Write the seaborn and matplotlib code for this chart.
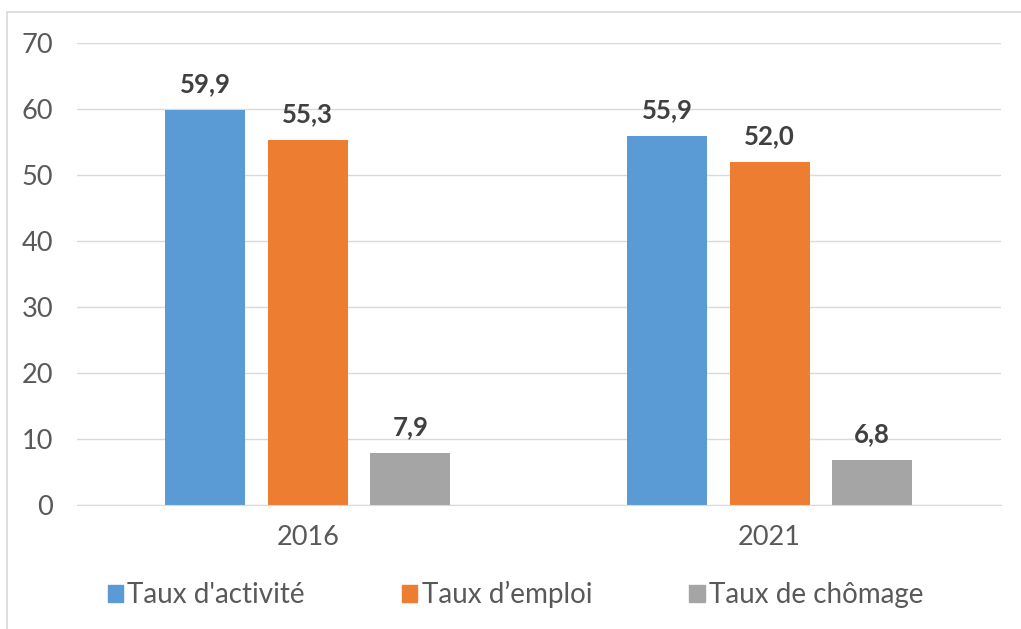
import pandas as pd
import matplotlib.pyplot as plt
import seaborn as sns
from matplotlib.patches import Patch, Rectangle

annees = ["2016", "2021"]
series = ["Taux d'activité", "Taux d\u2019emploi", "Taux de chômage"]
activite = [59.9, 55.9]
emploi = [55.3, 52.0]
chomage = [7.9, 6.8]
couleurs = ["#5B9BD5", "#ED7D31", "#A5A5A5"]

df = pd.DataFrame({
    "annee": annees * 3,
    "serie": [series[0]] * 2 + [series[1]] * 2 + [series[2]] * 2,
    "valeur": activite + emploi + chomage,
})

sns.set_style("white")
plt.rcParams["font.family"] = ["Lato", "DejaVu Sans"]

fig = plt.figure(figsize=(10.21, 6.29), dpi=100)
ax = fig.add_axes([0.0754, 0.197, 0.9046, 0.7346])

sns.barplot(data=df, x="annee", y="valeur", hue="serie", hue_order=series,
            palette=couleurs, width=0.666, gap=0.22, ax=ax, legend=False,
            saturation=1, linewidth=0)

# etiquettes des valeurs, virgule decimale
for cont in ax.containers:
    ax.bar_label(cont, labels=[f"{v:.1f}".replace(".", ",") for v in cont.datavalues],
                 padding=10, fontsize=18.5, fontweight="bold", color="#404040")

ax.set_xlim(-0.5, 1.5)
ax.set_ylim(0, 70)
ax.set_yticks(range(0, 71, 10))
ax.yaxis.grid(True, color="#D9D9D9", linewidth=1)
ax.set_axisbelow(True)
for s in ["top", "right", "left"]:
    ax.spines[s].set_visible(False)
ax.spines["bottom"].set_color("#D9D9D9")
ax.tick_params(axis="both", length=0, labelsize=19.5, colors="#595959", pad=14)
ax.tick_params(axis="y", pad=17)
ax.set_xlabel("")
ax.set_ylabel("")

handles = [Patch(color=c, label=s) for c, s in zip(couleurs, series)]
fig.legend(handles=handles, loc="center", bbox_to_anchor=(0.505, 0.055), ncol=3,
           frameon=False, fontsize=20, handlelength=0.55, handleheight=0.55,
           handletextpad=0.15, columnspacing=3.5, labelcolor="#595959")

fig.patches.append(Rectangle((0.007, -0.01), 1.1, 0.991, transform=fig.transFigure,
                             fill=False, edgecolor="#D9D9D9", linewidth=1.2))

fig.savefig("out.png", dpi=100)
